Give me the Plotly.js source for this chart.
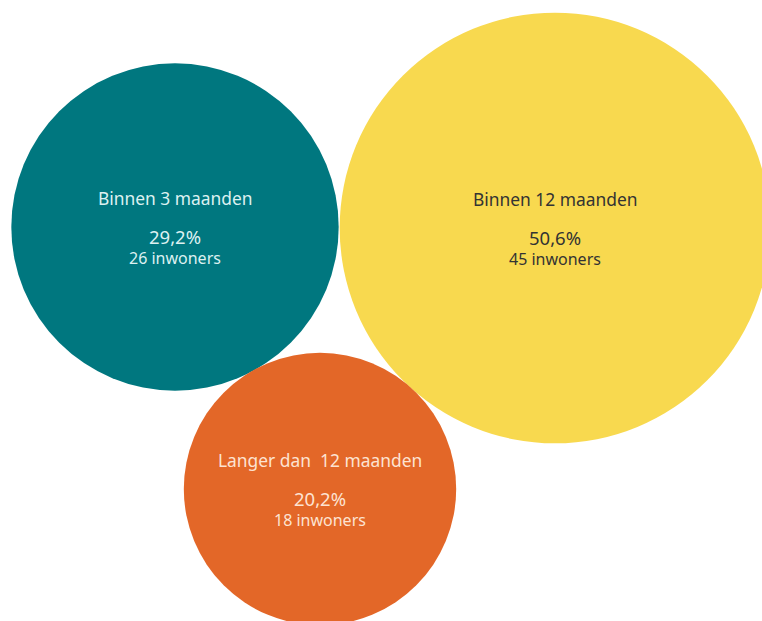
<!DOCTYPE html>
<html>
<head>
<meta charset="utf-8">
<script src="https://cdn.plot.ly/plotly-3.0.1.min.js"></script>
<style>html,body{margin:0;padding:0;background:#fff;}#chart{width:762px;height:621px;}</style>
</head>
<body>
<div id="chart"></div>
<script>
// Data
const categories = ["Binnen 3 maanden", "Binnen 12 maanden", "Langer dan  12 maanden"];
const percentages = ["29,2%", "50,6%", "20,2%"];
const counts = [26, 45, 18];

// Layout (packed bubble positions in pixel space)
const posX = [175, 555, 320];
const posY = [227, 228, 489];
const colors = ["#00777F", "#F8D94F", "#E36728"];
const textColors = ["#DDF1F1", "#333333", "#FDE3D2"];

const scale = 32.1; // px radius per sqrt(count)
const diam = scale * 2;
const sizeref = 2 / (diam * diam);

const trace = {
  type: "scatter",
  mode: "markers",
  x: posX,
  y: posY,
  marker: {
    size: counts,
    sizemode: "area",
    sizeref: sizeref,
    color: colors,
    opacity: 1,
    line: {width: 0}
  },
  hoverinfo: "skip",
  showlegend: false
};

const fontFam = "'Noto Sans', 'Open Sans', sans-serif";
const annotations = [];
categories.forEach((c, i) => {
  annotations.push({x: posX[i], y: posY[i] - 29, text: c, showarrow: false, xref: "x", yref: "y",
    font: {family: fontFam, size: 17.4, color: textColors[i]}});
  annotations.push({x: posX[i], y: posY[i] + 9, text: percentages[i], showarrow: false, xref: "x", yref: "y",
    font: {family: fontFam, size: 18.5, color: textColors[i]}});
  annotations.push({x: posX[i], y: posY[i] + 31, text: counts[i] + " inwoners", showarrow: false, xref: "x", yref: "y",
    font: {family: fontFam, size: 16, color: textColors[i]}});
});

const layout = {
  width: 762, height: 621,
  margin: {l: 0, r: 0, t: 0, b: 0},
  paper_bgcolor: "#ffffff",
  plot_bgcolor: "#ffffff",
  xaxis: {range: [0, 762], visible: false, fixedrange: true},
  yaxis: {range: [621, 0], visible: false, fixedrange: true},
  annotations: annotations,
  hovermode: false
};

Plotly.newPlot("chart", [trace], layout, {displayModeBar: false, staticPlot: true});
</script>
</body>
</html>
